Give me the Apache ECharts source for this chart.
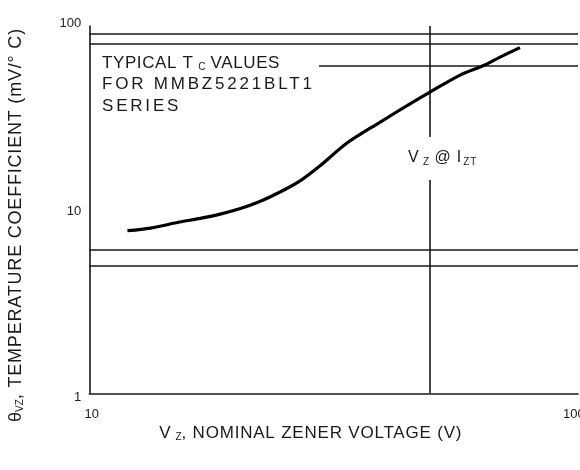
<!DOCTYPE html>
<html><head><meta charset="utf-8">
<script src="https://cdn.jsdelivr.net/npm/echarts@6/dist/echarts.min.js"></script>
<style>html,body{margin:0;padding:0;background:#fff}#c{width:580px;height:470px}</style>
</head><body><div id="c"></div>
<script>
// Curve: nominal zener voltage (V) vs temperature coefficient (mV/°C)
const vz = [12.0, 13.4, 15.4, 17.0, 18.7, 20.6, 22.6, 24.9, 27.4, 30.1, 34.3, 40.2, 47.0, 51.0, 58.9, 65.7, 71.3, 78.4];
const tc = [7.68, 7.94, 8.56, 8.97, 9.46, 10.14, 11.07, 12.47, 14.34, 17.28, 23.05, 29.99, 38.53, 43.68, 54.04, 60.73, 67.72, 76.28];
const xTickLabels = [10, 100];
const yTickLabels = [1, 10, 100];
const tcLevels = [91.1, 80.4, 6.08, 4.98];
const partialLevelFrom = 30;
const partialLevelValue = 60.7;
const izVoltage = 51;
const xRange = [10, 103.5];
const yRange = [1, 100];

const FONTFAM = '"Liberation Sans", Arial, sans-serif';
const INK = '#1a1a1a';

// letter spacing for selected strings (canvas letterSpacing)
const SPACED = {
  'FOR MMBZ5221BLT1': 2.8, 'SERIES': 2.8,
  'TYPICAL T': 0.6, 'VALUES': 0.6,
  ', TEMPERATURE COEFFICIENT (mV/° C)': 0.8
};
(function(){
  const P = CanvasRenderingContext2D.prototype;
  const orig = P.fillText;
  P.fillText = function(t){
    const ls = SPACED[t];
    if (ls && ('letterSpacing' in this)) {
      const prev = this.letterSpacing;
      this.letterSpacing = ls + 'px';
      orig.apply(this, arguments);
      this.letterSpacing = prev;
      return;
    }
    return orig.apply(this, arguments);
  };
})();

const mctx = document.createElement('canvas').getContext('2d');
function fontOf(size) { return size + 'px ' + FONTFAM; }
function widthOf(text, size) {
  mctx.font = fontOf(size);
  return mctx.measureText(text).width + (SPACED[text] || 0) * text.length;
}
// parts: [text, size, dy, gapAfter]
function runElements(parts, startX, y) {
  let x = startX;
  const els = [];
  parts.forEach(p => {
    els.push({type: 'text', x: x, y: y + (p[2] || 0), z: 100, silent: true,
      style: {text: p[0], font: fontOf(p[1]), fill: INK, align: 'left', verticalAlign: 'middle',
              textAlign: 'left', textVerticalAlign: 'middle'}});
    x += widthOf(p[0], p[1]) + (p[3] || 0);
  });
  return {els: els, width: x - startX};
}
function runWidth(parts) {
  return parts.reduce((s, p) => s + widthOf(p[0], p[1]) + (p[3] || 0), 0);
}

const yTitleParts = [['θ', 18, 0, 0], ['VZ', 10, 4, 0], [', TEMPERATURE COEFFICIENT (mV/° C)', 18, 0, 0]];
const xTitleParts = [['V ', 17, 0, 0], ['Z', 10, 4, 0], [', NOMINAL ZENER VOLTAGE (V)', 17, 0, 0]];
const line1Parts = [['TYPICAL T', 17, 0, 5], ['C', 10, 4, 5], ['VALUES', 17, 0, 0]];
const izParts = [['V ', 16, 0, 0], ['Z', 10, 4, 0], [' @ I ', 16, 0, 0], ['ZT', 10, 4, 0]];

const yT = runElements(yTitleParts, -runWidth(yTitleParts) / 2, 0);
const xT = runElements(xTitleParts, 300 - runWidth(xTitleParts) / 2, 433);
const l1 = runElements(line1Parts, 102, 63);
const iz = runElements(izParts, 408, 158);

const graphics = [
  {type: 'group', x: 16, y: 225, rotation: Math.PI / 2, children: yT.els},
  ...xT.els,
  ...l1.els,
  {type: 'text', x: 102, y: 84, z: 100, silent: true,
   style: {text: 'FOR MMBZ5221BLT1', font: fontOf(17), fill: INK, align: 'left', verticalAlign: 'middle', textAlign: 'left', textVerticalAlign: 'middle'}},
  {type: 'text', x: 102, y: 106, z: 100, silent: true,
   style: {text: 'SERIES', font: fontOf(17), fill: INK, align: 'left', verticalAlign: 'middle', textAlign: 'left', textVerticalAlign: 'middle'}},
  {type: 'rect', z: 90, silent: true, shape: {x: 404, y: 137, width: iz.width + 8, height: 43}, style: {fill: '#fff'}},
  ...iz.els
];

const chart = echarts.init(document.getElementById('c'), null, {renderer: 'canvas'});
const lineStyle = {color: INK, width: 1.6, type: 'solid'};
const lab = {fontSize: 13, fontFamily: FONTFAM, color: '#222'};
chart.setOption({
  animation: false,
  backgroundColor: '#fff',
  grid: {left: 89.3, top: 26, right: 2, bottom: 76.7, containLabel: false, outerBoundsMode: 'none'},
  xAxis: {
    type: 'log', logBase: 10, min: xRange[0], max: xRange[1],
    axisLine: {show: true, lineStyle: {color: INK, width: 1.6}},
    axisTick: {show: false}, splitLine: {show: false}, minorTick: {show: false},
    axisLabel: {
      show: true, margin: 15, fontSize: 13, fontFamily: FONTFAM, color: '#222',
      showMaxLabel: false, hideOverlap: false,
      formatter: v => {
        const r = Math.round(v);
        if (Math.abs(v - r) > 1e-6 || xTickLabels.indexOf(r) < 0) return '';
        return r === 100 ? '{r|' + r + '}' : '{l|' + r + '}';
      },
      rich: {
        l: Object.assign({align: 'left', padding: [0, 0, 0, 5]}, lab),
        r: Object.assign({align: 'left', padding: [0, 0, 0, 6]}, lab)
      }
    }
  },
  yAxis: {
    type: 'log', logBase: 10, min: yRange[0], max: yRange[1],
    axisLine: {show: true, lineStyle: {color: INK, width: 1.6}},
    axisTick: {show: false}, splitLine: {show: false},
    axisLabel: {
      show: true, margin: 8, fontSize: 13, fontFamily: FONTFAM, color: '#222',
      formatter: v => {
        const r = Math.round(v);
        if (yTickLabels.indexOf(r) < 0) return '';
        if (r === 1) return '{b|1}';
        if (r === 100) return '{t|100}';
        return '{m|' + r + '}';
      },
      rich: {
        b: Object.assign({padding: [8, 0, 0, 0]}, lab),
        t: Object.assign({padding: [0, 0, 5, 0]}, lab),
        m: Object.assign({padding: [3, 0, 0, 0]}, lab)
      }
    }
  },
  series: [
    {
      type: 'line', data: vz.map((v, i) => [v, tc[i]]),
      smooth: 0.3, showSymbol: false, symbol: 'none',
      lineStyle: {color: '#000', width: 3.2}, z: 5, silent: true
    },
    {
      type: 'line', data: [], silent: true, z: 3,
      markLine: {
        silent: true, symbol: 'none', animation: false,
        label: {show: false}, lineStyle: lineStyle, emphasis: {disabled: true},
        data: [
          ...tcLevels.map(v => ({yAxis: v})),
          [{coord: [partialLevelFrom, partialLevelValue]}, {coord: [xRange[1], partialLevelValue]}],
          {xAxis: izVoltage}
        ]
      }
    }
  ],
  graphic: graphics
});
</script></body></html>
